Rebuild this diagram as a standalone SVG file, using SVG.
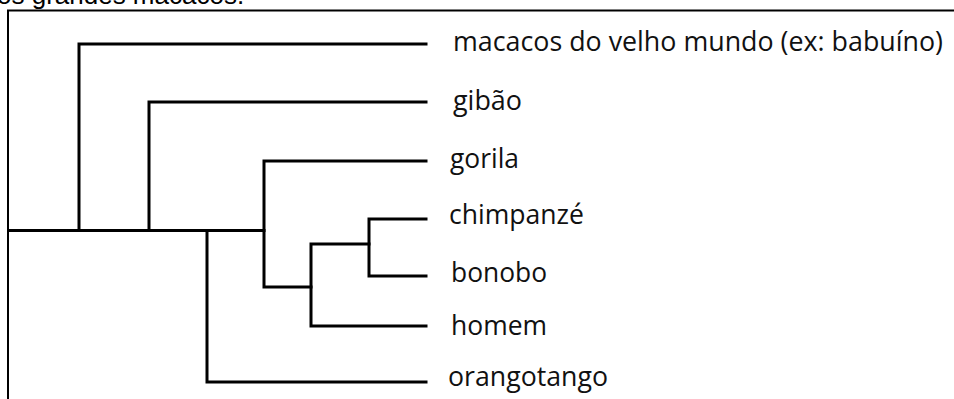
<svg xmlns="http://www.w3.org/2000/svg" width="954" height="399" viewBox="0 0 954 399">
<style>
.br{fill:none;stroke:#000;stroke-width:3;stroke-linejoin:miter;stroke-linecap:square}
.lbl{font-family:"Open Sans","Noto Sans","DejaVu Sans",sans-serif;font-size:28px;fill:#111}
.hdr{font-family:"Liberation Sans",Arial,sans-serif;font-size:26px;fill:#000}
.frame{fill:none;stroke:#000;stroke-width:2}
</style>
<rect width="954" height="399" fill="#fff"/>
<text class="hdr" x="-3" y="3.5">os grandes macacos.</text>
<path class="frame" d="M8,399 V10.5 H954"/>
<g id="connectors">
<path class="br" d="M9,230.5 H264"/>
<path class="br" d="M79,230.5 V44 H426"/>
<path class="br" d="M149,230.5 V102 H426"/>
<path class="br" d="M207,230.5 V382 H426"/>
<path class="br" d="M426,161 H264 V287 H311"/>
<path class="br" d="M426,326 H311 V244 H369"/>
<path class="br" d="M426,219 H369 V276 H426"/>
</g>
<g id="macacos"><text class="lbl" x="453" y="51" textLength="490" lengthAdjust="spacingAndGlyphs">macacos do velho mundo (ex: babuíno)</text></g>
<g id="gibao"><text class="lbl" x="453" y="110" textLength="69" lengthAdjust="spacingAndGlyphs">gibão</text></g>
<g id="gorila"><text class="lbl" x="450" y="168" textLength="69" lengthAdjust="spacingAndGlyphs">gorila</text></g>
<g id="chimpanze"><text class="lbl" x="449" y="224" textLength="135" lengthAdjust="spacingAndGlyphs">chimpanzé</text></g>
<g id="bonobo"><text class="lbl" x="451" y="282" textLength="96" lengthAdjust="spacingAndGlyphs">bonobo</text></g>
<g id="homem"><text class="lbl" x="451" y="335" textLength="96" lengthAdjust="spacingAndGlyphs">homem</text></g>
<g id="orangotango"><text class="lbl" x="448" y="386" textLength="160" lengthAdjust="spacingAndGlyphs">orangotango</text></g>
</svg>
